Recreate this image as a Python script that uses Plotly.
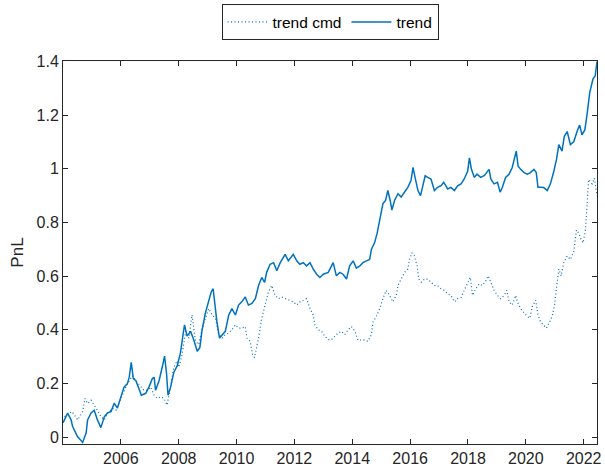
import plotly.graph_objects as go

# Cumulative PnL, sampled at decimal-year dates
trend_t = [
    2004.00, 2004.16, 2004.28, 2004.33, 2004.50, 2004.68, 2004.80, 2004.85, 2004.97, 2005.08,
    2005.19, 2005.31, 2005.43, 2005.54, 2005.66, 2005.77, 2005.88, 2006.00, 2006.11, 2006.23,
    2006.29, 2006.36, 2006.43, 2006.52, 2006.63, 2006.71, 2006.86, 2006.97, 2007.09, 2007.15,
    2007.20, 2007.32, 2007.43, 2007.51, 2007.58, 2007.63, 2007.72, 2007.83, 2007.95, 2008.06,
    2008.15, 2008.20, 2008.29, 2008.41, 2008.52, 2008.64, 2008.73, 2008.81, 2008.92, 2009.04,
    2009.12, 2009.19, 2009.25, 2009.32, 2009.41, 2009.50, 2009.61, 2009.73, 2009.84, 2009.96,
    2010.07, 2010.18, 2010.30, 2010.41, 2010.53, 2010.65, 2010.76, 2010.87, 2010.97, 2011.04,
    2011.16, 2011.28, 2011.39, 2011.51, 2011.68, 2011.79, 2011.96, 2012.08, 2012.19, 2012.31,
    2012.42, 2012.54, 2012.65, 2012.77, 2012.88, 2013.00, 2013.17, 2013.34, 2013.45, 2013.57,
    2013.68, 2013.80, 2013.91, 2014.03, 2014.14, 2014.26, 2014.37, 2014.49, 2014.60, 2014.66,
    2014.77, 2014.86, 2014.95, 2015.00, 2015.06, 2015.15, 2015.23, 2015.31, 2015.37, 2015.46,
    2015.58, 2015.69, 2015.81, 2015.92, 2016.03, 2016.10, 2016.17, 2016.27, 2016.36, 2016.44,
    2016.52, 2016.61, 2016.72, 2016.84, 2016.95, 2017.07, 2017.16, 2017.30, 2017.41, 2017.53,
    2017.64, 2017.76, 2017.87, 2017.99, 2018.05, 2018.12, 2018.22, 2018.31, 2018.44, 2018.57,
    2018.73, 2018.79, 2018.90, 2019.02, 2019.11, 2019.19, 2019.30, 2019.42, 2019.53, 2019.61,
    2019.67, 2019.73, 2019.82, 2019.94, 2020.05, 2020.16, 2020.28, 2020.36, 2020.42, 2020.51,
    2020.62, 2020.74, 2020.85, 2020.97, 2021.06, 2021.14, 2021.25, 2021.33, 2021.43, 2021.54,
    2021.66, 2021.77, 2021.86, 2021.94, 2022.04, 2022.12, 2022.21, 2022.32, 2022.40, 2022.46,
]
trend_pnl = [
    0.053, 0.089, 0.064, 0.040, 0.002, -0.020, 0.016, 0.064, 0.090, 0.100,
    0.064, 0.035, 0.076, 0.090, 0.095, 0.126, 0.108, 0.145, 0.186, 0.200,
    0.223, 0.278, 0.218, 0.210, 0.181, 0.156, 0.163, 0.186, 0.218, 0.223,
    0.174, 0.210, 0.260, 0.302, 0.236, 0.156, 0.186, 0.241, 0.266, 0.314,
    0.382, 0.418, 0.376, 0.394, 0.363, 0.320, 0.333, 0.400, 0.461, 0.504,
    0.540, 0.553, 0.492, 0.430, 0.369, 0.382, 0.394, 0.455, 0.479, 0.455,
    0.492, 0.504, 0.522, 0.492, 0.498, 0.516, 0.565, 0.595, 0.577, 0.614,
    0.644, 0.650, 0.620, 0.650, 0.681, 0.657, 0.681, 0.657, 0.644, 0.650,
    0.638, 0.650, 0.626, 0.607, 0.595, 0.607, 0.614, 0.650, 0.601, 0.614,
    0.607, 0.589, 0.638, 0.657, 0.630, 0.638, 0.650, 0.657, 0.662, 0.699,
    0.724, 0.760, 0.809, 0.846, 0.870, 0.882, 0.919, 0.882, 0.846, 0.882,
    0.907, 0.895, 0.913, 0.931, 0.956, 1.005, 0.968, 0.919, 0.900, 0.937,
    0.974, 0.968, 0.962, 0.919, 0.931, 0.937, 0.950, 0.925, 0.931, 0.919,
    0.937, 0.944, 0.962, 0.992, 1.041, 0.998, 0.968, 0.980, 0.968, 0.975,
    0.998, 0.962, 0.944, 0.950, 0.913, 0.931, 0.968, 0.980, 1.005, 1.041,
    1.066, 1.011, 0.998, 0.986, 0.980, 0.986, 0.998, 0.986, 0.931, 0.931,
    0.930, 0.919, 0.944, 0.992, 1.035, 1.090, 1.066, 1.121, 1.139, 1.090,
    1.102, 1.139, 1.163, 1.127, 1.145, 1.206, 1.285, 1.335, 1.347, 1.400,
]

cmd_t = [
    2004.05, 2004.31, 2004.51, 2004.68, 2004.76, 2004.85, 2004.97, 2005.08, 2005.19, 2005.31,
    2005.43, 2005.54, 2005.71, 2005.83, 2006.00, 2006.17, 2006.29, 2006.40, 2006.52, 2006.69,
    2006.80, 2006.92, 2007.03, 2007.15, 2007.26, 2007.38, 2007.49, 2007.60, 2007.72, 2007.83,
    2007.95, 2008.01, 2008.12, 2008.24, 2008.35, 2008.46, 2008.58, 2008.69, 2008.81, 2008.92,
    2009.04, 2009.15, 2009.27, 2009.38, 2009.50, 2009.61, 2009.73, 2009.84, 2009.96, 2010.07,
    2010.18, 2010.30, 2010.36, 2010.47, 2010.55, 2010.62, 2010.70, 2010.76, 2010.87, 2010.99,
    2011.10, 2011.22, 2011.33, 2011.45, 2011.56, 2011.68, 2011.85, 2011.96, 2012.08, 2012.19,
    2012.31, 2012.42, 2012.54, 2012.65, 2012.71, 2012.82, 2012.94, 2013.05, 2013.17, 2013.28,
    2013.40, 2013.51, 2013.63, 2013.74, 2013.86, 2013.97, 2014.09, 2014.20, 2014.37, 2014.54,
    2014.66, 2014.72, 2014.83, 2014.95, 2015.06, 2015.17, 2015.29, 2015.40, 2015.52, 2015.58,
    2015.69, 2015.81, 2015.92, 2015.98, 2016.06, 2016.15, 2016.24, 2016.30, 2016.38, 2016.50,
    2016.61, 2016.72, 2016.84, 2016.95, 2017.07, 2017.18, 2017.30, 2017.41, 2017.53, 2017.64,
    2017.76, 2017.87, 2017.99, 2018.08, 2018.16, 2018.27, 2018.39, 2018.50, 2018.62, 2018.70,
    2018.79, 2018.90, 2019.02, 2019.13, 2019.25, 2019.34, 2019.42, 2019.53, 2019.65, 2019.71,
    2019.82, 2019.94, 2020.05, 2020.14, 2020.22, 2020.34, 2020.42, 2020.51, 2020.62, 2020.71,
    2020.80, 2020.91, 2020.99, 2021.08, 2021.14, 2021.22, 2021.31, 2021.43, 2021.54, 2021.66,
    2021.75, 2021.83, 2021.91, 2021.98, 2022.06, 2022.12, 2022.17, 2022.29, 2022.37, 2022.46,
]
cmd_pnl = [
    0.076, 0.095, 0.064, 0.095, 0.144, 0.125, 0.137, 0.119, 0.100, 0.076,
    0.064, 0.089, 0.107, 0.100, 0.144, 0.186, 0.210, 0.229, 0.210, 0.186,
    0.174, 0.174, 0.186, 0.156, 0.144, 0.150, 0.144, 0.119, 0.200, 0.260,
    0.284, 0.260, 0.309, 0.394, 0.369, 0.455, 0.357, 0.345, 0.406, 0.443,
    0.479, 0.455, 0.443, 0.382, 0.369, 0.382, 0.388, 0.400, 0.418, 0.406,
    0.406, 0.412, 0.369, 0.357, 0.309, 0.296, 0.333, 0.369, 0.443, 0.492,
    0.540, 0.565, 0.528, 0.516, 0.522, 0.516, 0.510, 0.504, 0.492, 0.504,
    0.510, 0.516, 0.479, 0.455, 0.418, 0.400, 0.394, 0.376, 0.363, 0.363,
    0.376, 0.388, 0.394, 0.382, 0.400, 0.412, 0.394, 0.360, 0.363, 0.357,
    0.382, 0.430, 0.449, 0.479, 0.516, 0.547, 0.528, 0.504, 0.528, 0.565,
    0.589, 0.614, 0.626, 0.662, 0.687, 0.675, 0.638, 0.589, 0.577, 0.589,
    0.589, 0.577, 0.565, 0.565, 0.553, 0.547, 0.534, 0.528, 0.504, 0.516,
    0.520, 0.547, 0.577, 0.595, 0.528, 0.553, 0.571, 0.565, 0.583, 0.601,
    0.577, 0.547, 0.528, 0.516, 0.528, 0.547, 0.504, 0.492, 0.528, 0.504,
    0.479, 0.461, 0.449, 0.443, 0.486, 0.510, 0.455, 0.430, 0.418, 0.406,
    0.424, 0.449, 0.492, 0.565, 0.626, 0.601, 0.650, 0.675, 0.662, 0.693,
    0.772, 0.760, 0.736, 0.724, 0.772, 0.870, 0.960, 0.944, 0.965, 0.900,
]

year_ticks = [2006, 2008, 2010, 2012, 2014, 2016, 2018, 2020, 2022]
year_labels = [str(y) for y in year_ticks]
pnl_ticks = [0, 0.2, 0.4, 0.6, 0.8, 1.0, 1.2, 1.4]
pnl_labels = ["0", "0.2", "0.4", "0.6", "0.8", "1", "1.2", "1.4"]

blue = "#0072BD"
axis_color = "#262626"
font_family = "Liberation Sans, Arial, Helvetica, sans-serif"

fig = go.Figure()
fig.add_trace(go.Scatter(
    x=cmd_t, y=cmd_pnl, mode="lines", name="trend cmd",
    line=dict(color=blue, width=1.2, dash="1px,2.5px"),
))
fig.add_trace(go.Scatter(
    x=trend_t, y=trend_pnl, mode="lines", name="trend",
    line=dict(color=blue, width=1.5),
))

axis_common = dict(
    showline=True, linecolor=axis_color, linewidth=1, mirror="ticks",
    ticks="inside", ticklen=5, tickcolor=axis_color, tickwidth=1,
    showgrid=False, zeroline=False, ticklabeloverflow="allow",
    tickfont=dict(family=font_family, size=16, color=axis_color),
)

fig.update_layout(
    width=605, height=472,
    margin=dict(l=63, r=4, t=55, b=28),
    paper_bgcolor="white", plot_bgcolor="white",
    font=dict(family=font_family, size=16, color=axis_color),
    showlegend=True,
    legend=dict(
        orientation="h", x=0.5, xanchor="center", y=1.054, yanchor="bottom",
        bordercolor=axis_color, borderwidth=1, bgcolor="white",
        font=dict(family=font_family, size=15.5, color="black"),
        tracegroupgap=0, itemwidth=40,
    ),
    xaxis=dict(
        range=[2004.0, 2022.46], tickvals=year_ticks, ticktext=year_labels,
        **axis_common,
    ),
    yaxis=dict(
        range=[-0.026, 1.402], tickvals=pnl_ticks, ticktext=pnl_labels,
        title=dict(text="PnL", font=dict(family=font_family, size=17, color=axis_color), standoff=8),
        **axis_common,
    ),
)

fig.write_html("out.html")
